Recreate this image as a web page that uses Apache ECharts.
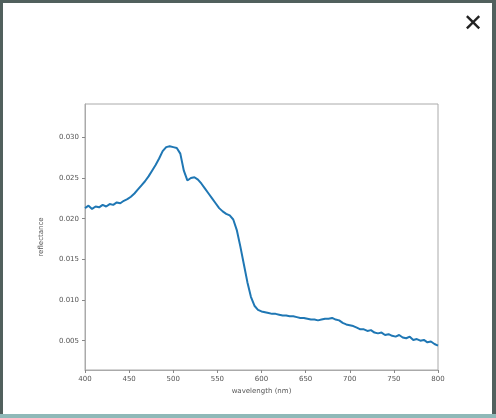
<!DOCTYPE html>
<html><head><meta charset="utf-8">
<script src="https://cdn.jsdelivr.net/npm/echarts@6/dist/echarts.min.js"></script>
<style>html,body{margin:0;padding:0;background:#51605d;}#c{width:496px;height:418px;}</style>
</head><body><div id="c"></div>
<script>
const wavelength = [400,404,408,412,416,420,424,428,432,436,440,444,448,452,456,460,464,468,472,476,480,484,488,492,496,500,504,508,512,516,520,524,528,532,536,540,544,548,552,556,560,564,568,572,576,580,584,588,592,596,600,604,608,612,616,620,624,628,632,636,640,644,648,652,656,660,664,668,672,676,680,684,688,692,696,700,704,708,712,716,720,724,728,732,736,740,744,748,752,756,760,764,768,772,776,780,784,788,792,796,800];
const reflectance = [0.0213,0.0216,0.0212,0.0215,0.0214,0.0217,0.0215,0.0218,0.0217,0.0220,0.0219,0.0222,0.0224,0.0227,0.0231,0.0236,0.0241,0.0246,0.0252,0.0259,0.0266,0.0274,0.0283,0.0288,0.0289,0.0288,0.0287,0.0280,0.0259,0.0247,0.0250,0.0251,0.0248,0.0243,0.0237,0.0231,0.0225,0.0219,0.0213,0.0209,0.0206,0.0204,0.0199,0.0186,0.0166,0.0144,0.0122,0.0104,0.0093,0.0088,0.0086,0.0085,0.0084,0.0083,0.0083,0.0082,0.0081,0.0081,0.0080,0.0080,0.0079,0.0078,0.0078,0.0077,0.0076,0.0076,0.0075,0.0076,0.0077,0.0077,0.0078,0.0076,0.0075,0.0072,0.0070,0.0069,0.0068,0.0066,0.0064,0.0064,0.0062,0.0063,0.0060,0.0059,0.0060,0.0057,0.0058,0.0056,0.0055,0.0057,0.0054,0.0053,0.0055,0.0051,0.0052,0.0050,0.0051,0.0048,0.0049,0.0046,0.0044];
const yTicks = [0.005,0.010,0.015,0.020,0.025,0.030];
const xLabel = 'wavelength (nm)';
const yLabel = 'reflectance';

const chart = echarts.init(document.getElementById('c'), null, {renderer:'canvas'});
const txt = {color:'#555', fontSize:7, fontFamily:'DejaVu Sans'};
chart.setOption({
  animation:false,
  backgroundColor:'transparent',
  graphic:[
    {type:'rect', shape:{x:3,y:3,width:489,height:411}, style:{fill:'#ffffff'}, z:-10},
    {type:'rect', shape:{x:0,y:414,width:496,height:4}, style:{fill:'#8fb9b8'}, z:-10},
    {type:'text', x:473, y:25, style:{text:'✕', font:'bold 24px DejaVu Sans', fill:'#222', align:'center', verticalAlign:'middle'}}
  ],
  grid:{left:85, right:58, top:104, bottom:48, show:true, borderColor:'#aaa', borderWidth:1},
  xAxis:{type:'value', min:400, max:800, interval:50,
    name:xLabel, nameLocation:'middle', nameGap:14, nameTextStyle:txt,
    axisLine:{lineStyle:{color:'#aaa'}}, axisTick:{show:true, length:3, lineStyle:{color:'#888'}},
    axisLabel:Object.assign({margin:6}, txt), splitLine:{show:false}},
  yAxis:{type:'value', min:0.0014, max:0.0341,
    name:yLabel, nameLocation:'middle', nameGap:40, nameTextStyle:txt,
    axisLine:{show:true, lineStyle:{color:'#aaa'}},
    axisTick:{show:true, length:3, lineStyle:{color:'#888'}, customValues:yTicks},
    axisLabel:Object.assign({margin:6, customValues:yTicks, formatter:v=>v.toFixed(3)}, txt),
    splitLine:{show:false}},
  series:[{type:'line', showSymbol:false, data:wavelength.map((w,i)=>[w,reflectance[i]]),
    lineStyle:{color:'#1f77b4', width:2}}]
});
</script></body></html>
